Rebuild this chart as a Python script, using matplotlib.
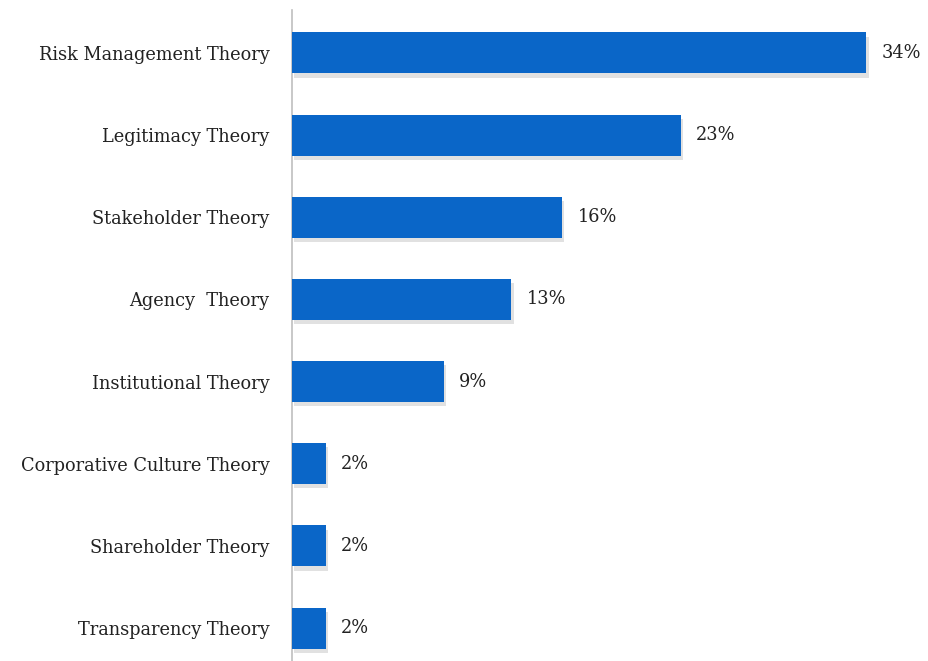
import matplotlib
matplotlib.use("Agg")
import matplotlib.pyplot as plt
import matplotlib.patheffects as pe

categories = ["Risk Management Theory", "Legitimacy Theory", "Stakeholder Theory",
              "Agency  Theory", "Institutional Theory", "Corporative Culture Theory",
              "Shareholder Theory", "Transparency Theory"]
values = [34, 23, 16, 13, 9, 2, 2, 2]
labels = ["34%", "23%", "16%", "13%", "9%", "2%", "2%", "2%"]

plt.rcParams['font.family'] = ['DejaVu Serif']

fig = plt.figure(figsize=(9.29, 6.61), dpi=100)
ax = fig.add_axes([0.314, 0.0, 0.686, 0.985])

y = list(range(len(categories)))
bars = ax.barh(y, values, height=0.5, color="#0A66C8", zorder=3)
for b in bars:
    b.set_path_effects([pe.SimplePatchShadow(offset=(1.5, -3), shadow_rgbFace="#888888", alpha=0.25),
                        pe.Normal()])

for yi, v, lab in zip(y, values, labels):
    ax.text(v + 0.9, yi, lab, va="center", ha="left", fontsize=12.8, color="#222222")

ax.set_yticks(y)
ax.set_yticklabels(categories, fontsize=12.8, color="#222222")
ax.set_xlim(0, 37.7)
ax.set_ylim(7.40, -0.523)
ax.set_xticks([])
for s in ["top", "right", "bottom"]:
    ax.spines[s].set_visible(False)
ax.spines["left"].set_color("#BFBFBF")
ax.spines["left"].set_linewidth(1.2)
ax.tick_params(axis="y", length=0, pad=16)

fig.savefig("out.png", dpi=100)
